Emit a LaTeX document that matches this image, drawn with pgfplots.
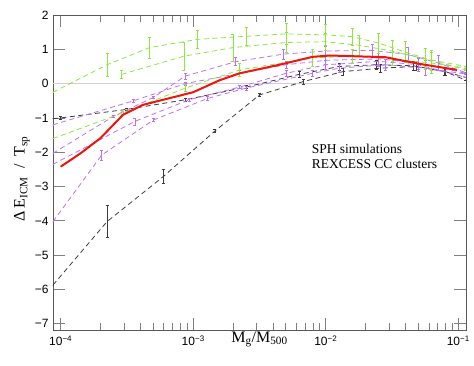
\documentclass[border=0pt]{standalone}
\usepackage{pgfplots}
\pgfplotsset{compat=1.18}
\usepackage{fontspec}
\setmainfont{Liberation Serif}
\newfontfamily\helv{Liberation Sans}
\usetikzlibrary{calc}

\definecolor{sgreen}{RGB}{140,232,60}
\definecolor{spurp}{RGB}{190,110,255}
\definecolor{sgrey}{RGB}{60,60,60}
\definecolor{sred}{RGB}{240,20,10}

\pgfplotsset{
  run/.style={color=#1, line width=0.8pt, dash pattern=on 5pt off 3.5pt, mark=none,
    error bars/.cd, y dir=both, y explicit, error mark=-,
    error bar style={solid, line width=0.6pt},
    error mark options={rotate=90, solid, mark size=1.5pt, line width=0.6pt}},
}

\begin{document}
\begin{tikzpicture}
\begin{axis}[
  scale only axis, width=413pt, height=315pt,
  xmode=log, xmin=8.75e-5, xmax=0.1143,
  ymin=-7.18, ymax=2,
  xtick={1e-4,1e-3,1e-2,1e-1},
  xticklabels={10\textsuperscript{−4},10\textsuperscript{−3},10\textsuperscript{−2},10\textsuperscript{−1}},
  ytick={-7,-6,-5,-4,-3,-2,-1,0,1,2},
  yticklabels={−7,−6,−5,−4,−3,−2,−1,0,1,2},
  tick align=inside, major tick length=12pt, minor tick length=7pt,
  tick style={black!50, line width=0.8pt},
  axis line style={black!65, line width=0.8pt},
  ticklabel style={font=\helv\fontsize{12}{14}\selectfont},
  xticklabel style={yshift=-2pt},
  yticklabel style={xshift=-1pt},
  xlabel={M\textsubscript{g}/M\textsubscript{500}},
  xlabel style={at={(axis description cs:0.5,-0.004)}, anchor=north, inner sep=0pt, font=\fontsize{16}{18}\selectfont},
  ylabel={Δ\,E\textsubscript{ICM}\ \ /\ \ T\textsubscript{sp}},
  ylabel style={at={(axis description cs:-0.056,0.48)}, anchor=south, inner sep=0pt, font=\fontsize{16}{18}\selectfont},
  clip=true,
]
% zero line
\addplot[black!18, line width=0.6pt, forget plot] coordinates {(8.75e-5,0) (0.1143,0)};

% grey runs
\addplot[run=sgrey] table[y error=e] {
x y e
8.75e-5 -1.02 0
1.0e-4 -1.00 0.05
3.162e-4 -0.75 0.03
8.71e-4 -0.47 0.04
2.512e-3 -0.10 0.04
6.31e-3 0.27 0.08
1.259e-2 0.50 0.10
2.4e-2 0.55 0.12
4.57e-2 0.52 0.12
7.9e-2 0.35 0.10
0.1143 0.18 0
};
\addplot[run=sgrey] table[y error=e] {
x y e
8.75e-5 -5.87 0
2.239e-4 -4.02 0.46
5.94e-4 -2.71 0.20
1.459e-3 -1.38 0.05
3.162e-3 -0.33 0.05
6.761e-3 0.06 0.08
1.349e-2 0.35 0.10
2.57e-2 0.45 0.12
4.786e-2 0.50 0.12
7.943e-2 0.35 0.12
0.1143 0.10 0
};

% purple runs
\addplot[run=spurp] table[y error=e] {
x y e
8.75e-5 -1.20 0
3.548e-4 -0.50 0.04
8.71e-4 0.00 0.04
2.239e-3 0.30 0.08
5.012e-3 0.55 0.10
1.0e-2 0.68 0.12
2.512e-2 0.72 0.15
5.012e-2 0.60 0.18
0.1143 0.30 0
};
\addplot[run=spurp] table[y error=e] {
x y e
8.75e-5 -2.03 0
2.512e-4 -0.95 0.03
5.012e-4 -0.40 0.04
8.71e-4 0.22 0.08
2.089e-3 0.64 0.12
4.786e-3 0.86 0.15
1.0e-2 0.95 0.15
2.239e-2 0.97 0.18
4.169e-2 0.85 0.20
7.079e-2 0.60 0.22
0.1143 0.32 0
};
\addplot[run=spurp] table[y error=e] {
x y e
8.75e-5 -2.35 0
3.631e-4 -1.10 0.10
9.33e-4 -0.47 0.05
2.239e-3 -0.10 0.05
5.012e-3 0.30 0.10
1.0e-2 0.55 0.12
2.512e-2 0.65 0.15
5.012e-2 0.55 0.20
0.1143 0.18 0
};
\addplot[run=spurp] table[y error=e] {
x y e
8.75e-5 -4.02 0
2.042e-4 -2.08 0.15
5.012e-4 -1.06 0.04
1.288e-3 -0.43 0.05
2.512e-3 -0.13 0.05
7.943e-3 0.30 0.10
1.259e-2 0.45 0.12
2.818e-2 0.55 0.15
5.623e-2 0.45 0.22
0.1143 0.28 0
};

% green runs
\addplot[run=sgreen] table[y error=e] {
x y e
8.75e-5 -0.25 0
2.239e-4 0.55 0.34
4.677e-4 1.05 0.30
1.072e-3 1.29 0.27
2.512e-3 1.38 0.25
5.012e-3 1.45 0.30
1.0e-2 1.42 0.30
1.585e-2 1.37 0.25
2.512e-2 1.18 0.30
3.981e-2 0.92 0.30
6.31e-2 0.68 0.30
0.1143 0.40 0
};
\addplot[run=sgreen] table[y error=e] {
x y e
2.884e-4 0.27 0.12
8.511e-4 0.80 0.40
1.995e-3 1.05 0.40
5.012e-3 1.20 0.30
1.0e-2 1.22 0.25
1.778e-2 1.12 0.30
3.162e-2 0.95 0.30
5.623e-2 0.72 0.30
0.1143 0.50 0
};
\addplot[run=sgreen] table[y error=e] {
x y e
8.75e-5 -1.60 0
2.951e-4 -0.85 0.05
8.71e-4 -0.13 0.10
2.239e-3 0.40 0.20
7.943e-3 0.75 0.25
1.585e-2 0.80 0.20
3.162e-2 0.72 0.20
6.31e-2 0.60 0.30
0.1143 0.45 0
};

% mean
\addplot[sred, line width=2pt, mark=none] coordinates {
(1.0e-4,-2.42) (1.413e-4,-2.03) (1.995e-4,-1.59) (2.951e-4,-0.91)
(4.169e-4,-0.62) (1.0e-3,-0.25) (1.585e-3,0.10) (2.239e-3,0.30)
(4.467e-3,0.55) (7.943e-3,0.78) (1.072e-2,0.82) (2.818e-2,0.77)
(5.012e-2,0.58) (9.772e-2,0.40)
};

\node[anchor=base west, inner sep=0pt, font=\fontsize{13.5}{16}\selectfont] at (axis cs:7.82e-3,-2.03) {SPH simulations};
\node[anchor=base west, inner sep=0pt, font=\fontsize{13.5}{16}\selectfont] at (axis cs:7.82e-3,-2.47) {REXCESS CC clusters};
\end{axis}
\pgfresetboundingbox
\path ($(current axis.south west)+(-53pt,-35pt)$) rectangle ($(current axis.north east)+(8pt,15pt)$);
\end{tikzpicture}
\end{document}
